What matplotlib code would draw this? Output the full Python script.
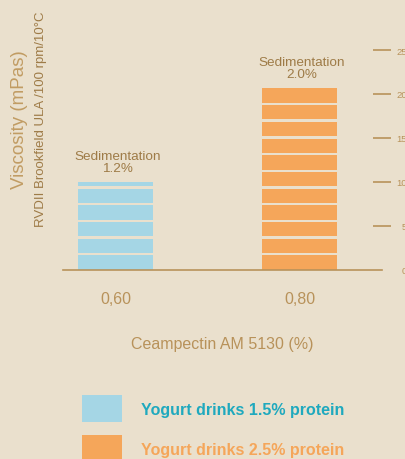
import numpy as np
import matplotlib
matplotlib.use("Agg")
import matplotlib.pyplot as plt
from matplotlib.patches import Patch

plt.rcParams['font.family'] = ['Liberation Sans', 'DejaVu Sans']

# data
concentrations = ['0,60', '0,80']
viscosity = [10.0, 20.7]
sedimentation = ['1.2%', '2.0%']
series_names = ['Yogurt drinks 1.5% protein', 'Yogurt drinks 2.5% protein']
yticks = [0, 5, 10, 15, 20, 25]

bg = '#EAE0CD'
brown = '#B8925A'
dark_brown = '#9E7B47'
bar_colors = ['#A5D6E5', '#F5A65A']
text_colors = ['#1FA9BE', '#F5A65A']

fig = plt.figure(figsize=(4.06, 4.6), dpi=100, facecolor=bg)
ax = fig.add_axes([0.155, 0.4115, 0.786, 0.4776])
ax.set_facecolor(bg)

x = np.arange(len(concentrations))
width = 0.408
step, gap = 1.9, 0.27   # striped look: stacked blocks with small gaps

for i, v in enumerate(viscosity):
    bottoms = np.arange(0, v, step)
    tops = np.minimum(bottoms + step - gap, v)
    ax.bar(np.full(len(bottoms), x[i]), tops - bottoms, width, bottom=bottoms,
           color=bar_colors[i], linewidth=0)
    ax.text(x[i] + 0.01, v + 0.9, 'Sedimentation\n' + sedimentation[i],
            ha='center', va='bottom', fontsize=9.7, color=dark_brown,
            linespacing=1.0)

ax.set_xlim(-0.285, 1.448)
ax.set_ylim(0, 25)

for s in ['top', 'left', 'right']:
    ax.spines[s].set_visible(False)
ax.spines['bottom'].set_color(brown)
ax.spines['bottom'].set_linewidth(1.2)

ax.set_xticks(x)
ax.set_xticklabels(concentrations, fontsize=11.5, color=brown)
ax.tick_params(axis='x', length=0, pad=15)
ax.set_xlabel('Ceampectin AM 5130 (%)', fontsize=11.5, color=brown, labelpad=22)

ax.yaxis.tick_right()
ax.set_yticks(yticks)
ax.set_yticklabels([str(t) for t in yticks])
ax.tick_params(axis='y', direction='inout', length=13, width=1.2, color=brown,
               labelcolor=brown, labelsize=6.8, pad=11.5)
for lab in ax.get_yticklabels():
    lab.set_horizontalalignment('right')
ax.yaxis.get_major_ticks()[0].tick2line.set_visible(False)

fig.text(0.047, 0.74, 'Viscosity (mPas)', rotation=90, ha='center', va='center',
         fontsize=13.5, color='#C19C63')
fig.text(0.101, 0.74, 'RVDII Brookfield ULA /100 rpm/10°C', rotation=90,
         ha='center', va='center', fontsize=9.5, color=dark_brown)

handles = [Patch(facecolor=c, linewidth=0) for c in bar_colors]
leg = fig.legend(handles, series_names, loc='upper left',
                 bbox_to_anchor=(82 / 406, 1 - 396 / 460), frameon=False,
                 borderpad=0, borderaxespad=0, handlelength=2.5,
                 handleheight=2.25, handletextpad=1.2, labelspacing=0.8,
                 prop={'size': 11.5, 'weight': 'bold'})
for t, c in zip(leg.get_texts(), text_colors):
    t.set_color(c)

fig.savefig('out.png', dpi=100, facecolor=bg)
